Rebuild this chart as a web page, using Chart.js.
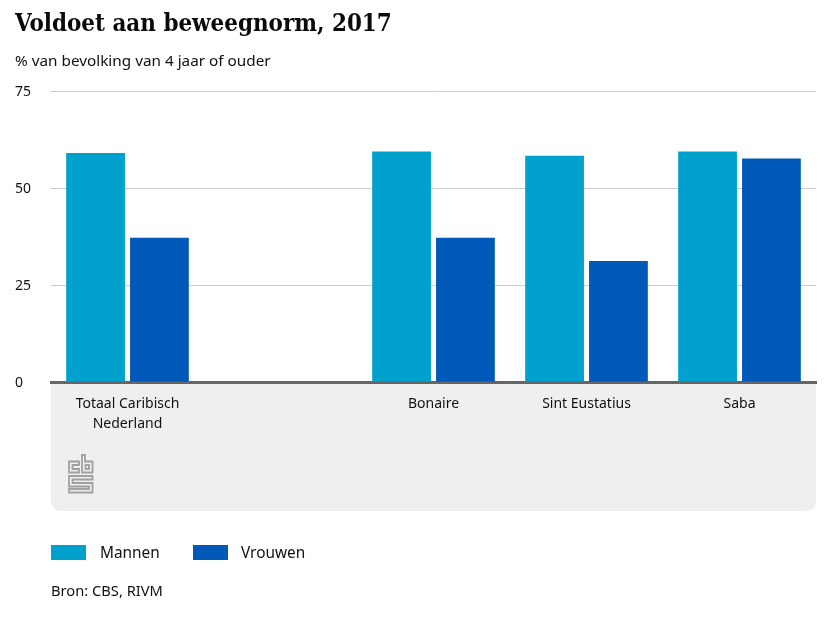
<!DOCTYPE html>
<html lang="nl">
<head>
  <meta charset="UTF-8">
  <title>Voldoet aan beweegnorm, 2017</title>
  <style>
    body {
      margin: 0;
      background: #fff;
      color: #111;
      font-family: "Noto Sans", sans-serif;
    }
    #wrap {
      position: relative;
      width: 830px;
      height: 623px;
      overflow: hidden;
    }
    #chart { position: absolute; left: 0; top: 0; }
    .txt { position: absolute; white-space: nowrap; }
    #title {
      left: 15px; top: 9px;
      font: bold 23.9px "DejaVu Serif Condensed", "DejaVu Serif", serif;
      color: #0a0a0a;
    }
    #subtitle { left: 15px; top: 50px; font-size: 15.3px; }
    #source { left: 51px; top: 580px; font-size: 14.7px; }
    .key { position: absolute; top: 545px; width: 35px; height: 15px; }
    .keylabel { top: 542px; font-size: 15.4px; }
    #logo { position: absolute; left: 67px; top: 454px; }
  </style>
</head>
<body>
  <div id="wrap">
    <canvas id="chart" width="830" height="623"></canvas>
    <div class="txt" id="title">Voldoet aan beweegnorm, 2017</div>
    <div class="txt" id="subtitle">% van bevolking van 4 jaar of ouder</div>
    <div class="key" style="left:51px;background:#00A1CD"></div>
    <div class="txt keylabel" style="left:100px">Mannen</div>
    <div class="key" style="left:193px;background:#0058B8"></div>
    <div class="txt keylabel" style="left:241px">Vrouwen</div>
    <div class="txt" id="source">Bron: CBS, RIVM</div>
    <svg id="logo" width="27" height="40" viewBox="0 0 27 40" fill="none" stroke="#A0A0A0" stroke-width="1.8">
      <path d="M12 7.5H2V18.5H12V15H5.5V11H12Z"/>
      <path d="M15 1H18V7.5H25.5V18.5H15Z"/>
      <rect x="18.5" y="11" width="3.5" height="4"/>
      <path d="M2 22H25.5V25.5H5.5V29H25.5V38.5H2V35H22V32.5H2Z"/>
    </svg>
  </div>

  <script src="https://cdn.jsdelivr.net/npm/chart.js"></script>
  <script>
    const categories = [['Totaal Caribisch', 'Nederland'], '', 'Bonaire', 'Sint Eustatius', 'Saba'];
    const mannen = [59.0, null, 59.4, 58.3, 59.4];
    const vrouwen = [37.2, null, 37.2, 31.2, 57.6];
    const yTicks = [0, 25, 50, 75];

    // grey panel under the axis, reaches down to y=511
    const panelPlugin = {
      id: 'panel',
      beforeDraw(chart) {
        const { ctx, chartArea } = chart;
        ctx.save();
        ctx.fillStyle = '#EFEFEF';
        ctx.beginPath();
        ctx.roundRect(chartArea.left, chartArea.bottom, chartArea.right - chartArea.left, 511 - chartArea.bottom, [0, 0, 9, 9]);
        ctx.fill();
        ctx.restore();
      }
    };

    Chart.defaults.font.family = '"Noto Sans", sans-serif';
    Chart.defaults.color = '#111';

    new Chart(document.getElementById('chart').getContext('2d'), {
      type: 'bar',
      data: {
        labels: categories,
        datasets: [
          { label: 'Mannen', data: mannen, backgroundColor: '#00A1CD' },
          { label: 'Vrouwen', data: vrouwen, backgroundColor: '#0058B8' }
        ]
      },
      options: {
        responsive: false,
        animation: false,
        categoryPercentage: 0.835,
        barPercentage: 0.92,
        layout: { padding: { left: 15, right: 14, top: 91, bottom: 0 } },
        plugins: { legend: { display: false }, tooltip: { enabled: false } },
        scales: {
          x: {
            z: 1,
            grid: { display: false },
            border: { color: '#666', width: 3 },
            ticks: { font: { size: 14, lineHeight: 1.43 }, color: '#111', padding: 4, maxRotation: 0, autoSkip: false },
            afterFit(scale) { scale.height = 241; }
          },
          y: {
            min: 0,
            max: 75,
            afterBuildTicks(scale) { scale.ticks = yTicks.map(v => ({ value: v })); },
            grid: { color: '#CCC', drawTicks: false },
            border: { display: false },
            ticks: { font: { size: 14 }, color: '#111', padding: 21, crossAlign: 'far', labelOffset: 1 },
            afterFit(scale) { scale.width = 36; }
          }
        }
      },
      plugins: [panelPlugin]
    });
  </script>
</body>
</html>
